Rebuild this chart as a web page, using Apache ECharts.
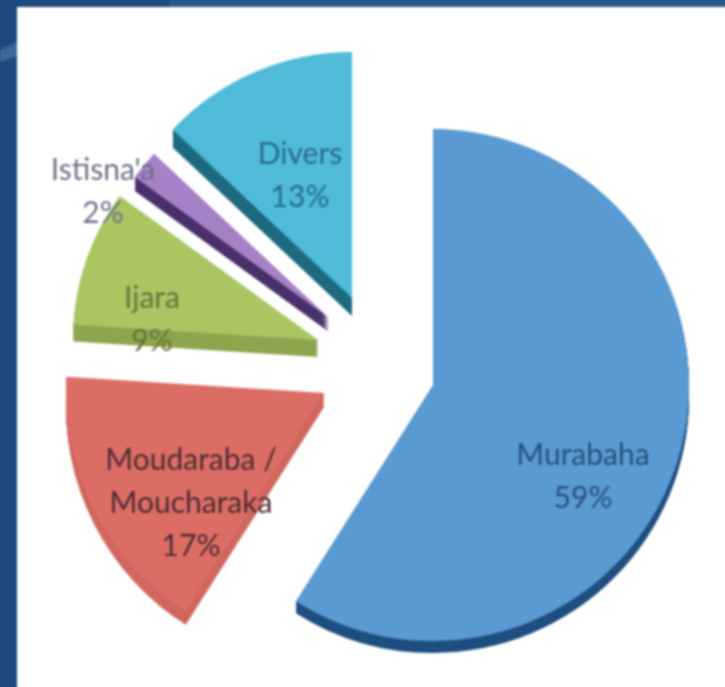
<!DOCTYPE html>
<html lang="fr">
<head>
    <meta charset="UTF-8">
    <title>Répartition des financements</title>
    <script src="https://cdn.jsdelivr.net/npm/echarts@6/dist/echarts.min.js"></script>
    <style>
        html, body { margin: 0; padding: 0; background: #1d4a7e; overflow: hidden; }
        /* a bit bigger than the window so the blur does not fade at right and bottom */
        #main { width: 737px; height: 699px; filter: blur(0.9px); }
    </style>
</head>
<body>
    <div id="main"></div>
    <script type="text/javascript">
        // values, clockwise from 12 o'clock
        var categories = ['Murabaha', 'Moudaraba /\nMoucharaka', 'Ijara', "Istisna'a", 'Divers'];
        var shares = [59, 17, 9, 2, 13];

        // each slice is pulled out of the pie by hand, so it has its own centre
        var centers = [[433, 385], [324, 393], [318, 340], [329, 318], [352, 298]];
        var radii = [256, 258, 245, 240, 246];
        var depths = [12, 14, 17, 14, 18];
        var topColors = ['#5a9ad2', '#dc6d65', '#a9c663', '#a581c6', '#4fbbd8'];
        var sideColors = ['#1f4f80', '#d0665f', '#8da64e', '#49316b', '#1d6a80'];
        var textColors = ['#27517f', '#4e2c32', '#68743a', '#70728a', '#2a6a8c'];
        var labelPos = [[583, 477], [191, 503], [152, 320], [103, 192], [300, 176]];

        var chart = echarts.init(document.getElementById('main'), null, { renderer: 'canvas' });

        // drop = 0 is the top face, drop > 0 is one layer of the extruded side
        function sliceSeries(i, cum, drop) {
            var c = centers[i];
            var isSide = drop > 0;
            return {
                type: 'pie',
                silent: true,
                clockwise: true,
                animation: false,
                startAngle: 90 - cum * 3.6,
                center: [c[0], c[1] + drop],
                radius: radii[i],
                z: isSide ? 2 : 3,
                avoidLabelOverlap: false,
                labelLine: { show: false },
                emphasis: { disabled: true },
                label: { show: false },
                itemStyle: { borderWidth: 0 },
                labelLayout: { x: labelPos[i][0], y: labelPos[i][1], hideOverlap: false },
                data: [
                    {
                        name: categories[i],
                        value: shares[i],
                        itemStyle: { color: isSide ? sideColors[i] : topColors[i], borderWidth: 0 },
                        label: isSide ? { show: false } : {
                            show: true,
                            position: 'inside',
                            formatter: categories[i] + '\n' + shares[i] + '%',
                            fontFamily: 'Lato',
                            fontSize: 30,
                            lineHeight: 43,
                            color: textColors[i],
                            align: 'center'
                        }
                    },
                    {
                        name: '',
                        value: 100 - shares[i],
                        itemStyle: { color: 'transparent', borderWidth: 0 },
                        label: { show: false }
                    }
                ]
            };
        }

        var series = [];
        var cum = 0;
        categories.forEach(function (name, i) {
            for (var d = depths[i]; d > 0; d--) {
                series.push(sliceSeries(i, cum, d));
            }
            series.push(sliceSeries(i, cum, 0));
            cum += shares[i];
        });

        chart.setOption({
            animation: false,
            backgroundColor: '#1d4a7e',
            graphic: [
                // top strip gets lighter to the right, small streak on the left edge
                { type: 'rect', z: 0, shape: { x: 170, y: 0, width: 567, height: 8 }, style: { fill: '#2c5c8e' } },
                { type: 'polygon', z: 0, shape: { points: [[0, 50], [17, 42], [17, 56], [0, 62]] }, style: { fill: '#3a6a98' } },
                { type: 'rect', z: 1, shape: { x: 17, y: 7, width: 720, height: 692 }, style: { fill: '#ffffff' } }
            ],
            series: series
        });
    </script>
</body>
</html>
